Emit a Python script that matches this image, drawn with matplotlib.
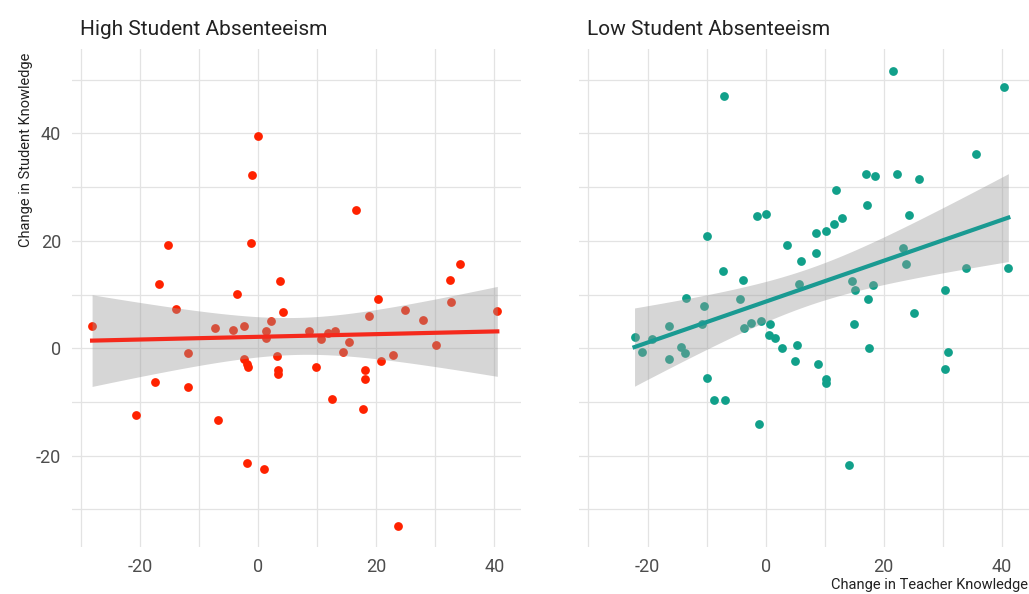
import numpy as np
import matplotlib
matplotlib.use("Agg")
import matplotlib.pyplot as plt
from matplotlib.ticker import MultipleLocator

plt.rcParams['font.family'] = ['Roboto', 'DejaVu Sans']
plt.rcParams['axes.unicode_minus'] = False

# High absenteeism group
high_teacher = [-28.2, 0.0, -1.1, -15.4, -1.2, -16.9, 3.7, -3.7, -14.0, 4.1,
                2.2, -7.3, -4.3, -2.5, 1.2, 1.2, 8.5, -11.9, 16.5, 10.6,
                11.8, 13.0, 15.3, 14.4, 18.8, 20.3, 24.9, 27.9, 30.1, 32.4,
                34.1, 32.7, 40.5, -2.4, -2.0, -1.7, 3.1, 3.3, 3.3, 9.8,
                12.4, 18.0, 18.0, 17.8, 20.8, 22.9, -6.9, -2.0, 1.0, 23.6,
                -20.8, -17.5, -12.0]
high_student = [4.1, 39.6, 32.2, 19.3, 19.6, 12.0, 12.6, 10.2, 7.4, 6.7,
                5.0, 3.7, 3.4, 4.1, 3.2, 2.0, 3.3, -0.8, 25.7, 1.7,
                2.9, 3.3, 1.1, -0.7, 6.1, 9.1, 7.2, 5.3, 0.7, 12.7,
                15.6, 8.7, 6.9, -1.9, -3.0, -3.4, -1.4, -4.1, -4.8, -3.5,
                -9.5, -4.0, -5.7, -11.3, -2.3, -1.2, -13.3, -21.4, -22.4, -33.0,
                -12.4, -6.2, -7.2]

# Low absenteeism group
low_teacher = [-7.0, -1.5, 0.05, -10.0, 3.7, 8.5, 8.6, 6.0, -7.3, -3.9,
               5.7, -13.4, -10.4, -4.4, -16.4, -10.7, -3.6, -2.5, -0.8, 0.7,
               -22.2, -19.2, -20.9, -14.4, -13.7, -16.4, 0.5, 1.6, 2.7, 5.3,
               5.0, 8.9, -9.9, -8.8, -6.9, -1.1, 21.5, 40.3, 35.6, 17.0,
               18.6, 22.3, 25.9, 12.0, 17.1, 24.2, 12.9, 11.6, 10.2, 23.3,
               23.8, 33.9, 41.1, 14.7, 15.2, 18.1, 17.4, 30.3, 25.2, 15.0,
               10.3, 10.2, 17.5, 30.9, 30.4, 14.2]
low_student = [46.9, 24.6, 25.0, 20.9, 19.3, 21.5, 17.7, 16.3, 14.3, 12.8,
               11.9, 9.3, 7.9, 9.2, 4.1, 4.5, 3.7, 4.8, 5.1, 4.5,
               2.1, 1.7, -0.6, 0.3, -0.8, -2.0, 2.5, 2.0, 0.0, 0.6,
               -2.4, -2.9, -5.6, -9.6, -9.6, -14.1, 51.6, 48.6, 36.2, 32.4,
               32.1, 32.4, 31.6, 29.4, 26.7, 24.9, 24.3, 23.1, 21.8, 18.7,
               15.6, 14.9, 14.9, 12.6, 10.8, 11.8, 9.1, 10.8, 6.6, 4.6,
               -5.8, -6.4, 0.0, -0.7, -3.9, -21.8]

panels = [
    ("High Student Absenteeism", high_teacher, high_student, "#FF2200", "#F5291C"),
    ("Low Student Absenteeism", low_teacher, low_student, "#11A08A", "#1A9A92"),
]


def fit_band(x, y):
    # linear fit with 95% confidence band, like geom_smooth(method = "lm")
    x = np.asarray(x)
    y = np.asarray(y)
    n = len(x)
    b, a = np.polyfit(x, y, 1)
    xs = np.linspace(x.min(), x.max(), 80)
    ys = a + b * xs
    resid = y - (a + b * x)
    s = np.sqrt(np.sum(resid ** 2) / (n - 2))
    se = s * np.sqrt(1 / n + (xs - x.mean()) ** 2 / np.sum((x - x.mean()) ** 2))
    t = 2.01
    return xs, ys, ys - t * se, ys + t * se


fig = plt.figure(figsize=(10.29, 5.94), dpi=100)
ax1 = fig.add_axes([0.070, 0.079, 0.4368, 0.8384])
ax2 = fig.add_axes([0.5627, 0.079, 0.4373, 0.8384], sharey=ax1)

for ax, (title, xv, yv, pcol, lcol) in zip([ax1, ax2], panels):
    ax.scatter(xv, yv, s=40, color=pcol, linewidths=0, zorder=2)
    xs, ys, lo, hi = fit_band(xv, yv)
    ax.fill_between(xs, lo, hi, color="#999999", alpha=0.4, linewidth=0, zorder=3)
    ax.plot(xs, ys, color=lcol, lw=3, zorder=4)

    ax.set_xlim(-31.6, 44.6)
    ax.set_ylim(-37.0, 55.7)
    ax.xaxis.set_major_locator(MultipleLocator(20))
    ax.xaxis.set_minor_locator(MultipleLocator(10))
    ax.yaxis.set_major_locator(MultipleLocator(20))
    ax.yaxis.set_minor_locator(MultipleLocator(10))
    ax.grid(True, which="both", color="#e3e3e3", lw=0.9)
    ax.set_axisbelow(True)
    for sp in ax.spines.values():
        sp.set_visible(False)
    ax.tick_params(which="both", length=0, labelsize=13, labelcolor="#4d4d4d", pad=8)
    ax.set_title(title, loc="left", fontsize=15, color="#222222", pad=10, x=0.018)

ax2.tick_params(axis="y", labelleft=False)

fig.text(0.018, 0.912, "Change in Student Knowledge", rotation=90, ha="left", va="top",
         fontsize=10.5, color="#222222")
fig.text(0.999, 0.003, "Change in Teacher Knowledge", ha="right", va="bottom",
         fontsize=10.5, color="#222222")

fig.savefig("out.png", dpi=100)
